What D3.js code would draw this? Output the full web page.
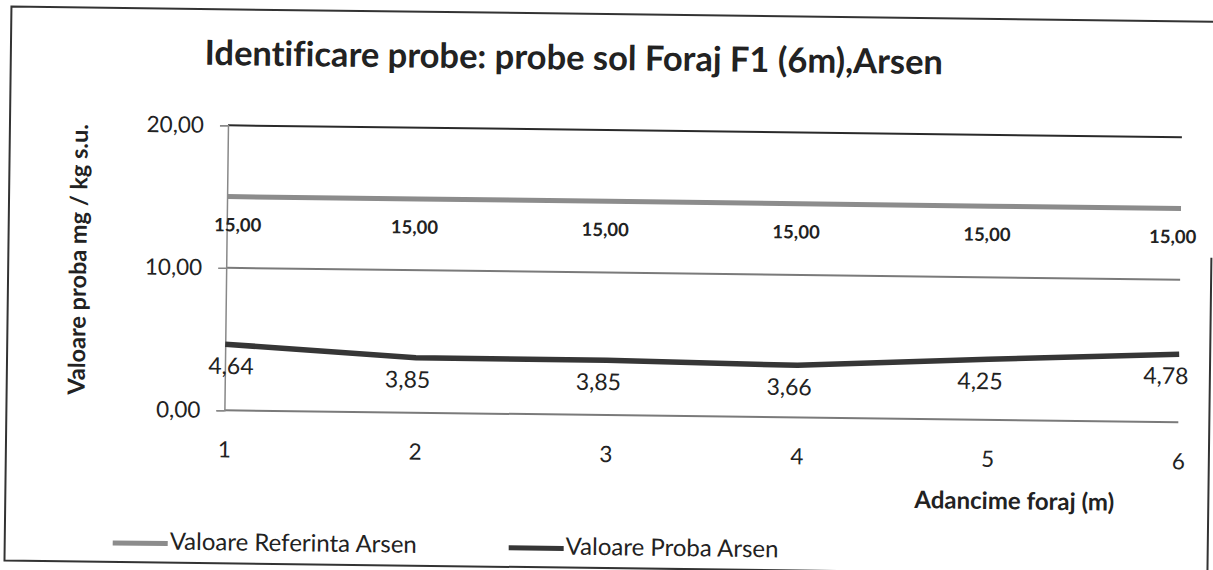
<!DOCTYPE html>
<html>
<head>
<meta charset="utf-8">
<script src="https://cdn.jsdelivr.net/npm/d3@7/dist/d3.min.js"></script>
<style>
  body { margin: 0; background: #fff; }
  svg { display: block; font-family: Lato, "Open Sans", sans-serif; font-variant-ligatures: none; }
</style>
</head>
<body>
<div class="visualization"></div>
<script>
'use strict';

// chart data
var depths = [1, 2, 3, 4, 5, 6];
var referinta = [15, 15, 15, 15, 15, 15];
var proba = [4.64, 3.85, 3.85, 3.66, 4.25, 4.78];
var yTicks = [0, 10, 20];
var seriesNames = ['Valoare Referinta Arsen', 'Valoare Proba Arsen'];

var width = 1213,
    height = 570;

var fmt = function(v) { return d3.format('.2f')(v).replace('.', ','); };

var svg = d3.select('.visualization')
  .append('svg')
  .attr('width', width)
  .attr('height', height);

// the scan is a bit tilted, so the whole sheet is turned slightly
var sheet = svg.append('g')
  .attr('transform', 'rotate(0.72, 600, 285)');

// outer frame (right edge only shows on the lower half)
sheet.append('path')
  .attr('d', 'M1212,14 H8 V568 H1211 V250')
  .attr('fill', 'none')
  .attr('stroke', '#333')
  .attr('stroke-width', 2);

var x = d3.scaleLinear().domain([1, 6]).range([226, 1180]);
var y = d3.scaleLinear().domain([0, 20]).range([415, 130]);

// title
sheet.append('text')
  .attr('x', 571)
  .attr('y', 61)
  .attr('text-anchor', 'middle')
  .attr('dominant-baseline', 'middle')
  .attr('font-size', 34.5)
  .attr('font-weight', 'bold')
  .attr('fill', '#222')
  .text('Identificare probe: probe sol Foraj F1 (6m),Arsen');

// gridlines
sheet.append('g').selectAll('line')
  .data(yTicks)
  .enter().append('line')
  .attr('x1', x(1)).attr('x2', x(6))
  .attr('y1', function(d) { return y(d); })
  .attr('y2', function(d) { return y(d); })
  .attr('stroke', function(d) { return d === 20 ? '#2a2a2a' : '#7a7a7a'; })
  .attr('stroke-width', 2);

// y axis
var yAxis = sheet.append('g')
  .attr('transform', 'translate(' + x(1) + ',0)')
  .call(d3.axisLeft(y).tickValues(yTicks).tickFormat(fmt).tickSize(8).tickPadding(16));
yAxis.select('.domain').attr('stroke', '#888').attr('stroke-width', 1.5);
yAxis.selectAll('.tick line').attr('stroke', '#888').attr('stroke-width', 1.5);
yAxis.selectAll('.tick text')
  .attr('font-size', 22.5)
  .attr('font-family', 'Lato, sans-serif')
  .attr('fill', '#222');

// x axis labels
var xAxis = sheet.append('g')
  .attr('transform', 'translate(0,' + y(0) + ')')
  .call(d3.axisBottom(x).tickValues(depths).tickFormat(d3.format('d')).tickSize(0).tickPadding(31));
xAxis.select('.domain').remove();
xAxis.selectAll('.tick text')
  .attr('font-size', 22.5)
  .attr('font-family', 'Lato, sans-serif')
  .attr('fill', '#222');

// axis titles
sheet.append('text')
  .attr('transform', 'translate(80,266) rotate(-90)')
  .attr('text-anchor', 'middle')
  .attr('dominant-baseline', 'middle')
  .attr('font-size', 23.5)
  .attr('font-weight', 'bold')
  .attr('fill', '#222')
  .text('Valoare proba mg / kg s.u.');

sheet.append('text')
  .attr('x', 1017)
  .attr('y', 498)
  .attr('text-anchor', 'middle')
  .attr('dominant-baseline', 'middle')
  .attr('font-size', 24)
  .attr('font-weight', 'bold')
  .attr('fill', '#222')
  .text('Adancime foraj (m)');

// series lines
var line = d3.line()
  .x(function(d, i) { return x(depths[i]); })
  .y(function(d) { return y(d); });

sheet.append('path')
  .datum(referinta)
  .attr('d', line)
  .attr('fill', 'none')
  .attr('stroke', '#8c8c8c')
  .attr('stroke-width', 5);

sheet.append('path')
  .datum(proba)
  .attr('d', line)
  .attr('fill', 'none')
  .attr('stroke', '#363636')
  .attr('stroke-width', 5.5);

// data labels, placed under the points
var nudge = function(i) { return i === 0 ? 11 : (i === depths.length - 1 ? -8 : -3); };

sheet.append('g').selectAll('text')
  .data(referinta)
  .enter().append('text')
  .attr('x', function(d, i) { return x(depths[i]) + nudge(i); })
  .attr('y', function(d) { return y(d) + 30; })
  .attr('text-anchor', 'middle')
  .attr('dominant-baseline', 'middle')
  .attr('font-size', 18.5)
  .attr('font-weight', 'bold')
  .attr('fill', '#222')
  .text(fmt);

sheet.append('g').selectAll('text')
  .data(proba)
  .enter().append('text')
  .attr('x', function(d, i) { return x(depths[i]) + nudge(i) - 5; })
  .attr('y', function(d) { return y(d) + 24; })
  .attr('text-anchor', 'middle')
  .attr('dominant-baseline', 'middle')
  .attr('font-size', 23)
  .attr('fill', '#222')
  .text(fmt);

// legend
var legend = sheet.append('g').selectAll('g')
  .data(seriesNames)
  .enter().append('g')
  .attr('transform', function(d, i) { return 'translate(' + (116 + i * 396) + ',549)'; });

legend.append('line')
  .attr('x1', 0).attr('x2', 55)
  .attr('stroke', function(d, i) { return i === 0 ? '#8c8c8c' : '#363636'; })
  .attr('stroke-width', 5);

legend.append('text')
  .attr('x', 57)
  .attr('dominant-baseline', 'middle')
  .attr('font-size', 24)
  .attr('fill', '#222')
  .text(function(d) { return d; });
</script>
</body>
</html>
